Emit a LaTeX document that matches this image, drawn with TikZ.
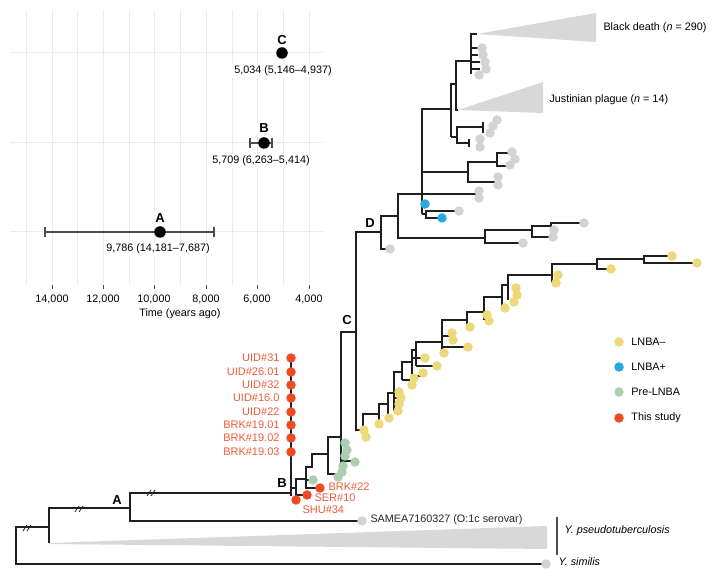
\documentclass[tikz,border=0pt]{standalone}
\usepackage{fontspec}
\setmainfont{Liberation Sans}
\usetikzlibrary{positioning}
\definecolor{lnbaneg}{HTML}{EDD97A}
\definecolor{lnbapos}{HTML}{29A9E1}
\definecolor{prelnba}{HTML}{A9CFAE}
\definecolor{thisstudy}{HTML}{EE4B22}
\definecolor{studytext}{HTML}{F15A3A}
\definecolor{tipgray}{HTML}{D3D3D3}
\definecolor{wedgegray}{HTML}{D8D8D8}
\definecolor{gridgray}{HTML}{EBEBEB}
\definecolor{barcol}{HTML}{4D4D4D}
\tikzset{
  txt/.style={font=\fontsize{10.8}{13}\selectfont},
  branch/.style={line width=1.1pt, black!88, line join=miter},
  tipdot/.style={circle, fill=#1, inner sep=0pt, minimum size=9.5pt},
  estdot/.style={circle, fill=black, inner sep=0pt, minimum size=11.5pt},
  cladelbl/.style={font=\fontsize{13}{15}\selectfont\bfseries},
  insetval/.style={fill=white, inner sep=2pt},
  errbar/.style={barcol, line width=1.2pt},
  studylbl/.style={text=studytext, font=\fontsize{11}{13}\selectfont},
}
\newcommand{\brkmark}[2]{\draw[branch, line width=0.8pt] (#1-5,#2+3) -- (#1-1,#2-3) (#1-1,#2+3) -- (#1+3,#2-3);}
\begin{document}
\begin{tikzpicture}[x=1pt, y=-1pt, every node/.style={txt}]
\useasboundingbox (0,0) rectangle (713,569);

% inset: dated divergences
\foreach \x in {26,77,129,180,232,283} \draw[gridgray, line width=0.7pt] (\x,10) -- (\x,284);
\foreach \x/\t in {52/{14,000},103/{12,000},154/{10,000},206/{8,000},257/{6,000},309/{4,000}} {
  \draw[gridgray, line width=1pt] (\x,10) -- (\x,284);
  \draw[barcol, line width=0.6pt] (\x,285) -- (\x,289);
  \node (tick\x) at (\x,299) {\t};
}
\foreach \y in {53,143,232} \draw[gridgray, line width=1pt] (10,\y) -- (323,\y);
\node (timeax) at (180,314) {Time (years ago)};
\node[insetval] (valC) at (283,71) {5,034 (5,146--4,937)};
\node[insetval] (valB) at (261,161) {5,709 (6,263--5,414)};
\node[insetval] (valA) at (158,249) {9,786 (14,181--7,687)};
\node[insetval, cladelbl] (estC) at (282,40) {C};
\node[insetval, cladelbl] (estB) at (264,128) {B};
\node[insetval, cladelbl] (estA) at (160,218) {A};
\draw[errbar] (45,232) -- (214,232) (45,227) -- (45,237) (214,227) -- (214,237);
\draw[errbar] (250,143) -- (272,143) (250,138) -- (250,148) (272,138) -- (272,148);
\node[estdot] (dotC) at (282,53) {};
\node[estdot] (dotB) at (264,143) {};
\node[estdot] (dotA) at (160,232) {};

% collapsed clades
\fill[wedgegray] (477,34) -- (596,13) -- (596,42) -- cycle;
\fill[wedgegray] (458,110) -- (543,82) -- (543,113) -- cycle;
\fill[wedgegray] (49,543) -- (547,526) -- (547,549) -- (49,544) -- cycle;

% outgroups and backbone
\draw[branch] (546,564) -| (16,527) -- (49,527);
\draw[branch] (49,543) -- (49,508) -- (130,508);
\draw[branch] (362,521) -| (130,493) -- (291,493);
\draw[branch] (291,358) -- (291,496);
\brkmark{28}{528}
\brkmark{80}{509}
\brkmark{152}{493}

% basal lineages and pre-LNBA
\draw[branch] (291,488) -- (296,488);
\draw[branch] (296,500) -- (296,479) -- (306,479);
\draw[branch] (296,495) -- (307,495);
\draw[branch] (320,488) -| (306,467) -- (312,467);
\draw[branch] (306,480) -- (313,480);
\draw[branch] (312,468) -- (312,454) -- (328,454);
\draw[branch] (338,474) -| (328,437) -- (341,437);
\draw[branch] (341,470) -- (341,332) -- (356,332);
\draw[branch] (341,461) -- (354,461);

% LNBA- clade
\draw[branch] (363,430) -| (356,232) -- (381,232);
\draw[branch] (363,433) -- (363,414) -- (379,414);
\draw[branch] (379,424) -- (379,404) -- (388,404);
\draw[branch] (388,418) -- (388,393) -- (394,393);
\draw[branch] (394,411) -- (394,372) -- (402,372);
\draw[branch] (394,392) -- (399,392) (394,398) -- (400,398) (394,404) -- (399,404);
\draw[branch] (402,380) -- (402,362) -- (412,362);
\draw[branch] (402,380) -- (410,380);
\draw[branch] (412,376) -- (412,350) -- (416,350);
\draw[branch] (412,376) -- (421,376) (412,358) -- (424,358);
\draw[branch] (416,366) -- (416,342) -- (442,342);
\draw[branch] (416,366) -- (435,366);
\draw[branch] (442,352) -- (442,320) -- (467,320);
\draw[branch] (442,336) -- (451,336) (442,347) -- (466,347);
\draw[branch] (467,325) -- (467,312) -- (484,312);
\draw[branch] (484,320) -- (484,297) -- (502,297);
\draw[branch] (502,306) -- (502,285) -- (508,285);
\draw[branch] (508,300) -- (508,275) -- (552,275);
\draw[branch] (552,282) -- (552,264) -- (597,264);
\draw[branch] (611,269) -| (597,259) -- (644,259);
\draw[branch] (672,256) -| (644,263) -- (697,263);

% D clade
\draw[branch] (389,249) -| (381,216) -- (398,216);
\draw[branch] (485,238) -| (398,194) -- (477,194);
\draw[branch] (522,243) -| (485,230) -- (532,230);
\draw[branch] (551,237) -| (532,226) -- (551,226);
\draw[branch] (553,230) -| (551,223) -- (582,223);
\draw[branch] (422,214) -- (422,109) -- (451,109);
\draw[branch] (422,172) -- (468,172);
\draw[branch] (495,182) -| (468,162) -- (497,162);
\draw[branch] (508,153) -| (497,166) -- (507,166);
\draw[branch] (422,214) -- (426,214);
\draw[branch] (458,211) -| (426,218) -- (441,218);
\draw[branch] (451,137) -- (451,84) -- (456,84);
\draw[branch] (458,110) -| (456,61) -- (471,61);
\draw[branch] (471,74) -- (471,34) -- (477,34);
\draw[branch] (471,48) -- (478,48) (471,55) -- (478,55) (471,62) -- (480,62) (471,69) -- (480,69);
\draw[branch] (451,137) -- (457,137);
\draw[branch] (469,143) -| (457,127) -- (483,127);
\draw[branch] (483,122) -- (483,133) (469,139) -- (469,147);

% tips
\foreach \i/\x/\y in {1/390/249,2/523/243,3/553/237,4/554/230,5/584/223,6/459/211,7/479/191,8/479/198,9/498/177,10/498/185,11/512/152,12/515/159,13/510/165,14/480/139,15/480/147,16/497/120,17/493/126,18/490/133,19/482/48,20/483/55,21/485/62,22/486/69,23/479/75}
  \node[tipdot=tipgray] (g\i) at (\x,\y) {};
\node[tipdot=tipgray] (samea) at (362,521) {};
\node[tipdot=tipgray] (similis) at (546,564) {};
\foreach \i/\x/\y in {1/425/204,2/442/218}
  \node[tipdot=lnbapos] (b\i) at (\x,\y) {};
\foreach \i/\x/\y in {1/313/480,2/345/443,3/347/450,4/345/456,5/343/466,6/355/462,7/342/472,8/338/477}
  \node[tipdot=prelnba] (p\i) at (\x,\y) {};
\foreach \i/\x/\y in {1/364/430,2/366/437,3/379/424,4/389/418,5/399/392,6/401/398,7/399/404,8/398/411,9/412/385,10/414/378,11/423/373,12/425/358,13/437/366,14/444/353,15/452/333,16/453/340,17/468/347,18/470/327,19/487/315,20/489/321,21/505/308,22/516/288,23/517/295,24/514/302,25/558/275,26/556/283,27/611/269,28/672/256,29/697/263}
  \node[tipdot=lnbaneg] (y\i) at (\x,\y) {};

% this study
\foreach \i/\y/\t in {1/358/UID\#31,2/372/UID\#26.01,3/385/UID\#32,4/398/UID\#16.0,5/412/UID\#22,6/425/BRK\#19.01,7/438/BRK\#19.02,8/452/BRK\#19.03} {
  \node[tipdot=thisstudy] (r\i) at (291,\y) {};
  \node[studylbl, left=3pt of r\i] (rl\i) {\t};
}
\node[tipdot=thisstudy] (shu) at (296,500) {};
\node[tipdot=thisstudy] (ser) at (307,495) {};
\node[tipdot=thisstudy] (brk) at (320,488) {};
\node[studylbl, anchor=west, inner ysep=1pt] (brkl) at (325,487) {BRK\#22};
\node[studylbl, anchor=west, inner ysep=1pt] (serl) at (311,498) {SER\#10};
\node[studylbl, anchor=west, inner ysep=1pt] (shul) at (299,510) {SHU\#34};

% clade labels
\node[cladelbl] (lblA) at (117,500) {A};
\node[cladelbl] (lblB) at (282,483) {B};
\node[cladelbl] (lblC) at (347,320) {C};
\node[cladelbl] (lblD) at (370,223) {D};
\node[anchor=west, text=black!85] (sameal) at (367,520) {SAMEA7160327 (O:1c serovar)};
\node[anchor=west] (bdl) at (600,28) {Black death (\textit{n} = 290)};
\node[anchor=west] (jpl) at (546,100) {Justinian plague (\textit{n} = 14)};
\draw[barcol, line width=1.5pt] (557,517) -- (557,555);
\node[anchor=west] (pseudol) at (561,531) {\textit{Y. pseudotuberculosis}};
\node[anchor=west, inner ysep=1pt] (similisl) at (555,562) {\textit{Y. similis}};

% legend
\foreach \i/\y/\c/\t in {1/342/lnbaneg/LNBA--,2/367/lnbapos/LNBA+,3/392/prelnba/Pre-LNBA,4/418/thisstudy/This study} {
  \node[tipdot=\c] (key\i) at (619,\y) {};
  \node[right=4pt of key\i] (keylbl\i) {\t};
}
\end{tikzpicture}
\end{document}
